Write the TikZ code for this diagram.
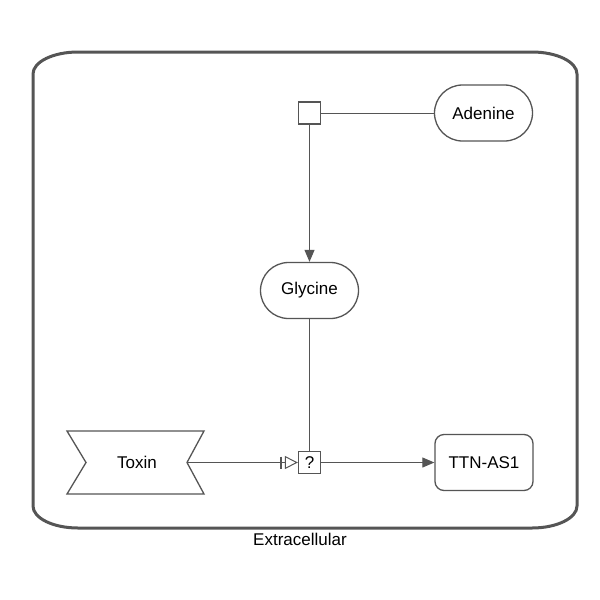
\documentclass[tikz,border=0pt]{standalone}
\usepackage{fontspec}
\setmainfont{Liberation Sans}
\usetikzlibrary{arrows.meta,shapes.misc,calc}
\definecolor{ln}{RGB}{85,85,85}
\begin{document}
\begin{tikzpicture}[x=1pt,y=-1pt,
 every node/.style={font=\fontsize{17}{20}\selectfont},
 chem/.style={draw=ln,line width=1.3pt,rounded rectangle,minimum width=98pt,minimum height=56pt,fill=white,inner sep=0pt},
 macro/.style={draw=ln,line width=1.3pt,rounded corners=9pt,minimum width=98pt,minimum height=56pt,fill=white},
 proc/.style={draw=ln,line width=1.3pt,minimum size=22pt,inner sep=0pt,fill=white},
 edge/.style={draw=ln,line width=1pt},
 prod/.style={edge,-{Triangle[length=12pt,width=10pt,fill=ln]}},
 nstim/.style={edge,-{Bar[width=12pt,sep=3pt,line width=1.6pt]Triangle[open,length=13pt,width=13pt,fill=white]}}
]
\useasboundingbox (0,0) rectangle (600,600);
\fill[white] (0,0) rectangle (600,600);
% compartment
\draw[ln,line width=3pt] (33,74) arc[start angle=180,end angle=270,x radius=45,y radius=22]
  -- (532,52) arc[start angle=270,end angle=360,x radius=45,y radius=22]
  -- (577,506) arc[start angle=0,end angle=90,x radius=45,y radius=22]
  -- (78,528) arc[start angle=90,end angle=180,x radius=45,y radius=22] -- cycle;
\node (extra) at (300,539) {Extracellular};
% toxin shape
\draw[ln,line width=1.3pt,fill=white] (67,431) -- (204,431) -- (187,462.5) -- (204,494) -- (67,494) -- (86,462.5) -- cycle;
\node[minimum width=100pt,minimum height=62pt,inner sep=0pt] (tox) at (137,462.5) {Toxin};
% nodes
\node[proc] (p1) at (309.5,113) {};
\node[chem] (ade) at (483.5,113) {Adenine};
\node[chem] (gly) at (309.5,290.5) {Glycine};
\node[proc] (q) at (309.5,462.5) {?};
\node[macro] (ttn) at (484,462.5) {TTN-AS1};
% edges
\draw[edge] (ade.west) -- (p1.east);
\draw[prod] (p1.south) -- (gly.north);
\draw[edge] (gly.south) -- (q.north);
\draw[nstim] (tox.east) -- (q.west);
\draw[prod] (q.east) -- (ttn.west);
\end{tikzpicture}
\end{document}
